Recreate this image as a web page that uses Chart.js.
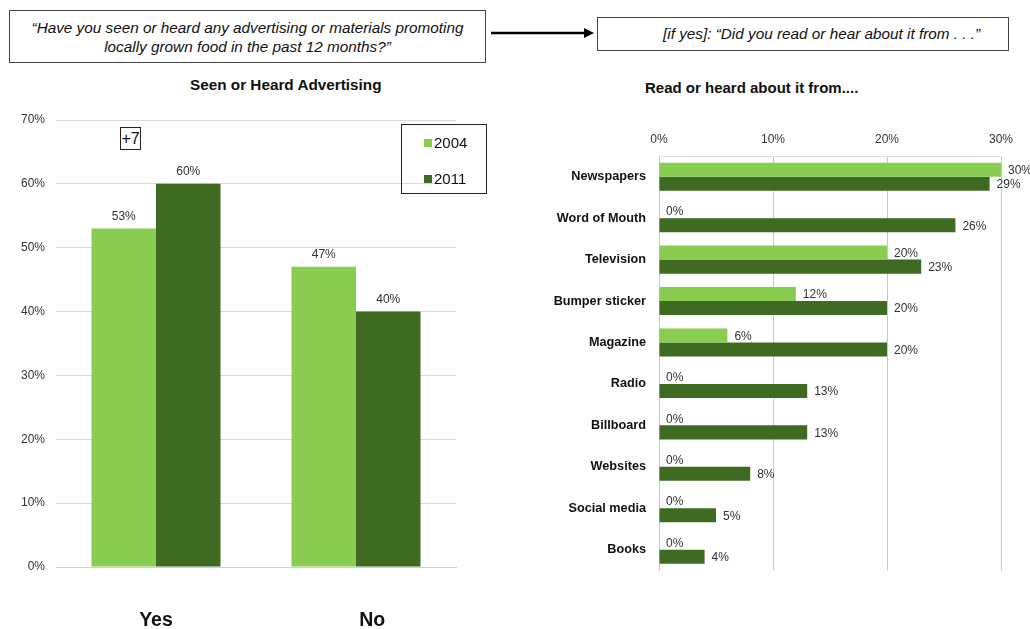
<!DOCTYPE html>
<html>
<head>
<meta charset="utf-8">
<script src="https://cdn.jsdelivr.net/npm/chart.js@4.4.1/dist/chart.umd.min.js"></script>
<style>
  body { margin: 0; width: 1030px; height: 629px; background: #fff; position: relative; overflow: hidden;
         font-family: "Liberation Sans", Arial, sans-serif; color: #111; }
  .abs { position: absolute; }
  .qbox { border: 1px solid #444; background: #fff; font-style: italic; font-size: 15.3px; color: #111; box-sizing: border-box; white-space: nowrap; }
  .title { font-weight: bold; color: #111; white-space: nowrap; }
  #legend { left: 401px; top: 124px; width: 86px; height: 70px; border: 1px solid #222; box-sizing: border-box; font-size: 15px; }
  #legend div { position: absolute; left: 22px; display: flex; align-items: center; }
  #legend span.sw { display: inline-block; width: 8px; height: 8px; margin-right: 2px; }
</style>
</head>
<body>
<div class="abs qbox" style="left:9px;top:10px;width:477px;height:53px;text-align:center;line-height:19px;padding-top:7px;">
  “Have you seen or heard any advertising or materials promoting<br>locally grown food in the past 12 months?”
</div>
<svg class="abs" style="left:488px;top:26px" width="110" height="14">
  <line x1="3" y1="7" x2="100" y2="7" stroke="#000" stroke-width="2.5"/>
  <polygon points="96,2 106,7 96,12" fill="#000"/>
</svg>
<div class="abs qbox" style="left:597px;top:17px;width:412px;height:34px;line-height:32px;padding-left:65px;">
  [if yes]: “Did you read or hear about it from . . .”
</div>

<div class="abs title" style="left:190px;top:76px;font-size:15.3px;">Seen or Heard Advertising</div>
<div class="abs title" style="left:645px;top:79px;font-size:15px;">Read or heard about it from....</div>

<div class="abs" style="left:0;top:100px;width:480px;height:529px;"><canvas id="leftChart"></canvas></div>
<div class="abs" style="left:530px;top:100px;width:500px;height:491px;"><canvas id="rightChart"></canvas></div>

<div class="abs" style="left:120px;top:127px;width:21px;height:23px;border:1px solid #222;box-sizing:border-box;font-size:16px;line-height:21px;text-align:center;background:#fff;">+7</div>
<div class="abs" id="legend"></div>

<script>
const years = ['2004', '2011'];
const answers = ['Yes', 'No'];
const seen2004 = [53, 47];
const seen2011 = [60, 40];

const sources = ['Newspapers', 'Word of Mouth', 'Television', 'Bumper sticker', 'Magazine',
                 'Radio', 'Billboard', 'Websites', 'Social media', 'Books'];
const source2004 = [30, 0, 20, 12, 6, 0, 0, 0, 0, 0];
const source2011 = [29, 26, 23, 20, 20, 13, 13, 8, 5, 4];

const lightGreen = '#88cc50';
const darkGreen = '#3f6a21';
const font = '"Liberation Sans", Arial, sans-serif';

Chart.defaults.font.family = font;
Chart.defaults.color = '#333';

// value labels drawn next to each bar
const barLabels = {
  id: 'barLabels',
  afterDatasetsDraw(chart) {
    const ctx = chart.ctx;
    const horizontal = chart.options.indexAxis === 'y';
    ctx.save();
    ctx.font = '12px ' + font;
    ctx.fillStyle = '#333';
    chart.data.datasets.forEach((ds, i) => {
      chart.getDatasetMeta(i).data.forEach((bar, j) => {
        const text = ds.data[j] + '%';
        ctx.textBaseline = 'middle';
        if (horizontal) {
          ctx.textAlign = 'left';
          ctx.fillText(text, bar.x + 7, bar.y + 1);
        } else {
          ctx.textAlign = 'center';
          ctx.fillText(text, bar.x, bar.y - 12);
        }
      });
    });
    ctx.restore();
  }
};

const leftChart = new Chart(document.getElementById('leftChart'), {
  type: 'bar',
  data: {
    labels: answers,
    datasets: [
      { label: years[0], data: seen2004, backgroundColor: lightGreen },
      { label: years[1], data: seen2011, backgroundColor: darkGreen }
    ]
  },
  options: {
    responsive: true,
    maintainAspectRatio: false,
    animation: false,
    categoryPercentage: 0.645,
    barPercentage: 1,
    layout: { padding: { top: 20, right: 24, left: 0, bottom: 0 } },
    plugins: { legend: { display: false }, tooltip: { enabled: false } },
    scales: {
      x: {
        grid: { display: false, drawTicks: false },
        border: { color: '#d0d0d0' },
        ticks: {
          padding: 42, color: '#111', font: { size: 19.5, weight: 'bold' },
          // the "No" label sits a little right of its bars in the original
          callback: (v, i) => i === 1 ? '      ' + answers[i] : answers[i]
        },
        afterFit(scale) { scale.height = 62; }
      },
      y: {
        min: 0, max: 70,
        ticks: { stepSize: 10, padding: 11, font: { size: 12 }, callback: v => v + '%' },
        grid: { color: '#d9d9d9', drawTicks: false },
        border: { display: false },
        afterFit(scale) { scale.width = 56; }
      }
    }
  },
  plugins: [barLabels]
});

const rightChart = new Chart(document.getElementById('rightChart'), {
  type: 'bar',
  data: {
    labels: sources,
    datasets: [
      { label: years[0], data: source2004, backgroundColor: lightGreen },
      { label: years[1], data: source2011, backgroundColor: darkGreen }
    ]
  },
  options: {
    indexAxis: 'y',
    responsive: true,
    maintainAspectRatio: false,
    animation: false,
    categoryPercentage: 0.68,
    barPercentage: 1,
    layout: { padding: { top: 0, right: 29, left: 0, bottom: 11 } },
    plugins: { legend: { display: false }, tooltip: { enabled: false } },
    scales: {
      x: {
        position: 'top',
        min: 0, max: 30,
        ticks: { stepSize: 10, padding: 9, font: { size: 12 }, callback: v => v + '%' },
        grid: { color: '#c8c8c8', drawTicks: false },
        border: { color: '#e0e0e0' },
        afterFit(scale) { scale.height = 56; }
      },
      y: {
        grid: { display: false, drawTicks: false },
        border: { color: '#c8c8c8' },
        ticks: { padding: 13, color: '#111', font: { size: 12.7, weight: 'bold' } },
        afterFit(scale) { scale.width = 129; }
      }
    }
  },
  plugins: [barLabels]
});

// legend box built from the left chart's datasets
const legend = document.getElementById('legend');
leftChart.data.datasets.forEach((ds, i) => {
  const item = document.createElement('div');
  item.style.top = (i === 0 ? 9 : 45) + 'px';
  item.innerHTML = `<span class="sw" style="background:${ds.backgroundColor}"></span>${ds.label}`;
  legend.appendChild(item);
});
</script>
</body>
</html>
